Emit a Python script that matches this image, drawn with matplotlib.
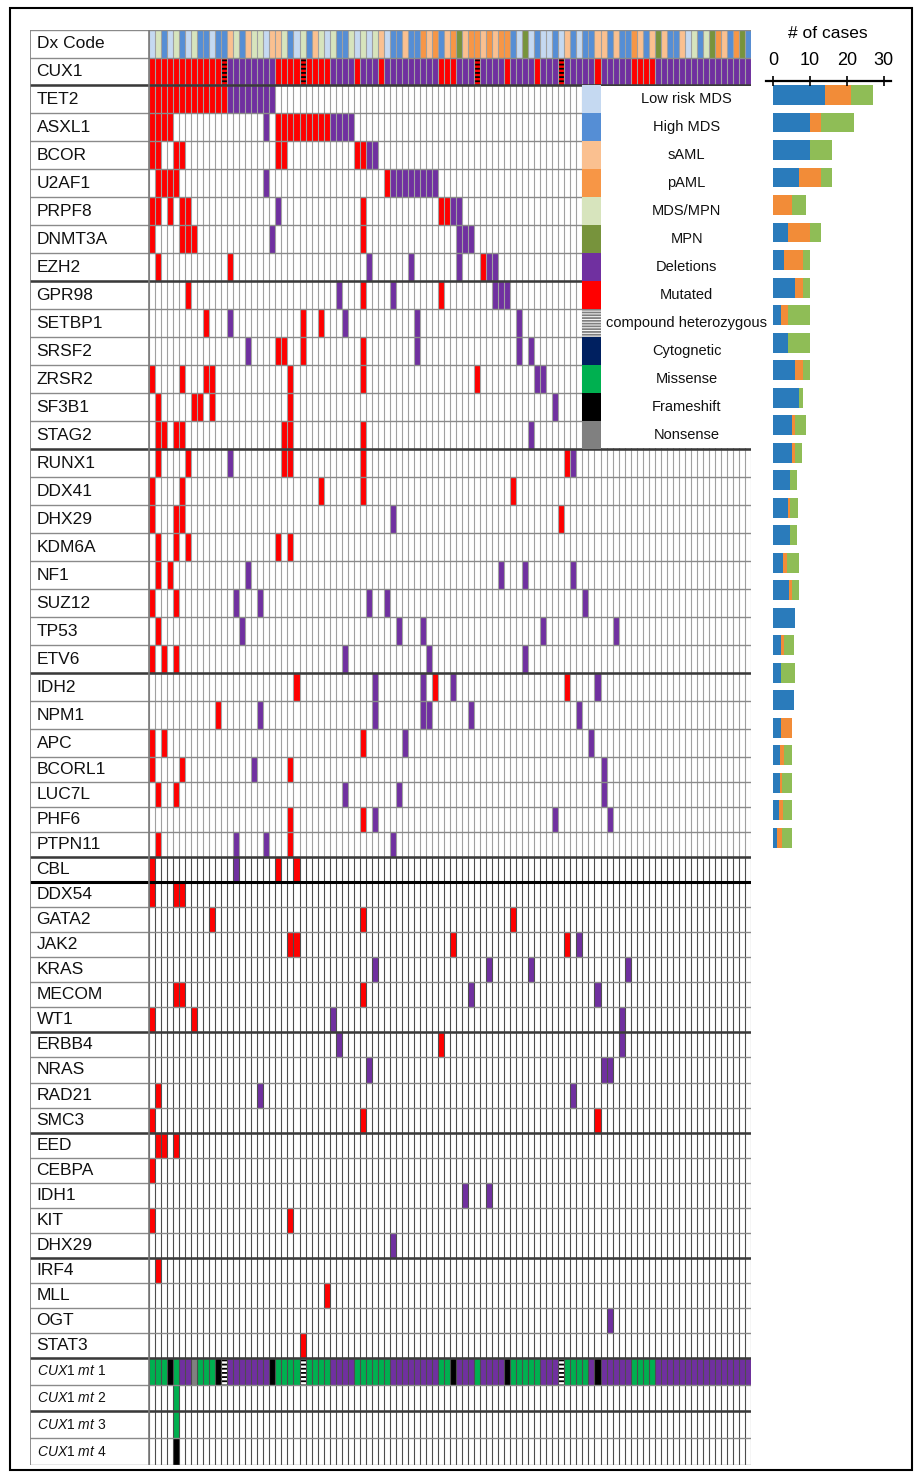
import numpy as np
import matplotlib
matplotlib.use("Agg")
import matplotlib.pyplot as plt
from matplotlib.colors import ListedColormap, BoundaryNorm
from matplotlib.patches import Rectangle
from matplotlib import font_manager

W, H = 915, 1475
N_COLS = 100

# ---- data ---------------------------------------------------------------
# diagnosis code per sample (L low risk MDS, H high MDS, S sAML, P pAML, M MDS/MPN, N MPN)
DX_CODES = ("LMHLMHLMHH" "LHHSMHSMML" "SSMHLMHSML" "MHHMLMLMSL" "HHSHHPSPHS"
            "PNSPPSPSPP" "HLNLHLLHLS" "HLHHSSHSHH" "PSHSNSHHSL" "MHMNPSHPNH")

# CUX1 row: mutated runs (inclusive), compound heterozygous columns, rest deleted
CUX1_RED_RUNS = [(0, 12), (21, 29), (34, 34), (38, 38), (48, 50), (54, 54),
                 (59, 59), (64, 64), (68, 68), (74, 74), (80, 83)]
CUX1_COMPOUND = [12, 25, 54, 68]

GENES = ["TET2", "ASXL1", "BCOR", "U2AF1", "PRPF8", "DNMT3A", "EZH2", "GPR98",
         "SETBP1", "SRSF2", "ZRSR2", "SF3B1", "STAG2", "RUNX1", "DDX41", "DHX29",
         "KDM6A", "NF1", "SUZ12", "TP53", "ETV6", "IDH2", "NPM1", "APC", "BCORL1",
         "LUC7L", "PHF6", "PTPN11", "CBL", "DDX54", "GATA2", "JAK2", "KRAS", "MECOM",
         "WT1", "ERBB4", "NRAS", "RAD21", "SMC3", "EED", "CEBPA", "IDH1", "KIT",
         "DHX29", "IRF4", "MLL", "OGT", "STAT3"]

MUTATED = [
    [0, 1, 2, 3, 4, 5, 6, 7, 8, 9, 10, 11, 12],
    [0, 1, 2, 3, 21, 22, 23, 24, 25, 26, 27, 28, 29],
    [0, 1, 4, 5, 21, 22, 34, 35],
    [1, 2, 3, 4, 39],
    [0, 1, 3, 5, 6, 35, 48, 49],
    [0, 5, 6, 7, 35],
    [1, 13, 55],
    [6, 35, 48],
    [9, 25, 28],
    [21, 22, 25, 35],
    [0, 5, 9, 10, 23, 35, 54],
    [1, 7, 8, 10, 23],
    [1, 2, 4, 5, 22, 23, 35],
    [1, 6, 22, 23, 35, 69],
    [0, 5, 28, 35, 60],
    [0, 4, 5, 68],
    [1, 4, 6, 21, 23],
    [1, 3],
    [0, 4],
    [1],
    [0, 2, 4],
    [24, 47, 69],
    [11],
    [0, 2, 35],
    [0, 5, 23],
    [1, 4],
    [23, 35],
    [1, 23],
    [0, 21, 24],
    [0, 4, 5],
    [10, 35, 60],
    [23, 24, 50, 69],
    [],
    [4, 5, 35],
    [0, 7],
    [48],
    [],
    [1],
    [0, 35, 74],
    [1, 2, 4],
    [0],
    [],
    [0, 23],
    [],
    [1],
    [29],
    [],
    [25],
]

DELETED = [
    [13, 14, 15, 16, 17, 18, 19, 20],
    [19, 30, 31, 32, 33],
    [36, 37],
    [19, 40, 41, 42, 43, 44, 45, 46, 47],
    [21, 50, 51],
    [20, 51, 52, 53],
    [36, 43, 51, 56, 57],
    [31, 40, 57, 58, 59],
    [13, 32, 44, 61],
    [16, 44, 61, 63],
    [64, 65],
    [67],
    [63],
    [13, 70],
    [],
    [40],
    [],
    [16, 58, 62, 70],
    [14, 18, 36, 39, 72],
    [15, 41, 45, 65, 77],
    [32, 46, 62],
    [37, 45, 50, 74],
    [18, 37, 45, 46, 53, 71],
    [42, 73],
    [17, 75],
    [32, 41, 75],
    [37, 67, 76],
    [14, 19, 40],
    [14],
    [],
    [],
    [71],
    [37, 56, 63, 79],
    [53, 74],
    [30, 78],
    [31, 78],
    [36, 75, 76],
    [18, 70],
    [],
    [],
    [],
    [52, 56],
    [],
    [40],
    [],
    [],
    [76],
    [],
]

# CUX1 mutation rows: (type, first col, last col); g missense, k frameshift,
# n nonsense, d deletion, c compound heterozygous
MT1_RUNS = [("g", 0, 2), ("k", 3, 3), ("g", 4, 4), ("d", 5, 6), ("n", 7, 7),
            ("g", 8, 10), ("k", 11, 11), ("c", 12, 12), ("d", 13, 19), ("k", 20, 20),
            ("g", 21, 24), ("c", 25, 25), ("g", 26, 29), ("d", 30, 33), ("g", 34, 39),
            ("d", 40, 47), ("g", 48, 49), ("k", 50, 50), ("d", 51, 53), ("g", 54, 54),
            ("d", 55, 58), ("k", 59, 59), ("g", 60, 64), ("d", 65, 67), ("c", 68, 68),
            ("g", 69, 72), ("d", 73, 73), ("k", 74, 74), ("d", 75, 79), ("g", 80, 83),
            ("d", 84, 99)]
MT2_RUNS = [("g", 4, 4)]
MT3_RUNS = [("g", 4, 4)]
MT4_RUNS = [("k", 4, 4)]

# number of cases per gene (blue, orange, green segments)
BLUE = [14, 10, 10, 7, 0, 4, 3, 6, 2, 4, 6, 7, 5, 5, 4.5, 4, 4.5, 2.7, 4.3, 6,
        2, 2, 5.5, 2, 1.8, 1.8, 1.5, 1]
ORANGE = [7, 3, 0, 6, 5, 6, 5, 2, 2, 0, 2, 0, 1, 1, 0, 0.5, 0, 1.1, 0.8, 0,
          1, 0, 0, 3, 1, 0.6, 1, 1.3]
GREEN = [6, 9, 6, 3, 4, 3, 2, 2, 6, 6, 2, 1, 3, 1.8, 2, 2.2, 2, 3.2, 1.9, 0,
         2.7, 3.8, 0, 0, 2.2, 2.6, 2.5, 2.7]

LEGEND_LABELS = ["Low risk MDS", "High MDS", "sAML", "pAML", "MDS/MPN", "MPN",
                 "Deletions", "Mutated", "compound heterozygous", "Cytognetic",
                 "Missense", "Frameshift", "Nonsense"]

# ---- styling -------------------------------------------------------------
PALETTE = ["#ffffff", "#ff0000", "#7030a0", "#00b050", "#000000", "#808080",
           "#c5d9f1", "#558ed5", "#fac090", "#f79646", "#d7e4bd", "#77933c", "#002060"]
DX_INDEX = {"L": 6, "H": 7, "S": 8, "P": 9, "M": 10, "N": 11}
MT_INDEX = {"g": 3, "k": 4, "n": 5, "d": 2, "c": 0}
LEGEND_INDEX = [6, 7, 8, 9, 10, 11, 2, 1, None, 12, 3, 4, 5]

names = {f.name for f in font_manager.fontManager.ttflist}
NARROW = "Liberation Sans Narrow" if "Liberation Sans Narrow" in names else "Liberation Sans"
NARROW_SIZE = 12.5 if NARROW == "Liberation Sans Narrow" else 10.5

plt.rcParams["font.family"] = ["Liberation Sans", "DejaVu Sans"]
plt.rcParams["mathtext.fontset"] = "custom"
plt.rcParams["mathtext.it"] = "Liberation Sans:italic"
plt.rcParams["mathtext.rm"] = "Liberation Sans"
plt.rcParams["hatch.linewidth"] = 1.3

# row heights in pixels (top to bottom)
heights = [27.5] * 2 + [28] * 24 + [25.04] * 24 + [26.75] * 4
edges = 30 + np.concatenate([[0], np.cumsum(heights)])
n_rows = len(heights)
LW = (149 - 30) / 6.02  # label column width in sample columns

# ---- build the code matrix -----------------------------------------------
codes = np.zeros((n_rows, N_COLS), dtype=int)
assert len(DX_CODES) == N_COLS
codes[0] = [DX_INDEX[c] for c in DX_CODES]
codes[1] = 2
for a, b in CUX1_RED_RUNS:
    codes[1, a:b + 1] = 1
for gi in range(len(GENES)):
    codes[2 + gi, MUTATED[gi]] = 1
    codes[2 + gi, DELETED[gi]] = 2
compound_cells = [(1, c, "black") for c in CUX1_COMPOUND]
for ri, runs in enumerate([MT1_RUNS, MT2_RUNS, MT3_RUNS, MT4_RUNS]):
    r = 50 + ri
    for t, a, b in runs:
        codes[r, a:b + 1] = MT_INDEX[t]
        if t == "c":
            compound_cells += [(r, c, "black") for c in range(a, b + 1)]

cmap = ListedColormap(PALETTE)
norm = BoundaryNorm(np.arange(-0.5, len(PALETTE) + 0.5), len(PALETTE))

fig = plt.figure(figsize=(W / 100, H / 100), dpi=100)
ax = fig.add_axes([30 / W, 1 - 1465 / H, 721 / W, 1435 / H])
ax.set_xlim(-LW, N_COLS)
ax.set_ylim(1465, 30)
ax.axis("off")

ax.pcolormesh(np.arange(N_COLS + 1), edges, codes, cmap=cmap, norm=norm, zorder=1)

for r, c, col in compound_cells:
    ax.add_patch(Rectangle((c, edges[r]), 1, edges[r + 1] - edges[r], fill=False,
                           hatch="----", edgecolor=col, lw=0, zorder=2))

cols = np.arange(N_COLS + 1)
ax.vlines(cols, edges[0], edges[30], color="#a0a0a0", lw=0.8, zorder=3)
ax.vlines(cols, edges[30], edges[-1], color="#4d4d4d", lw=0.8, zorder=3)
ax.hlines(edges, -LW, N_COLS, color="#8a8a8a", lw=1.0, zorder=3.5)
GROUP_BREAKS = [2, 9, 15, 23, 30, 37, 41, 46, 50, 52]
ax.hlines(edges[GROUP_BREAKS], -LW, N_COLS, color="#3a3a3a", lw=1.8, zorder=3.6)
ax.hlines(edges[31], -LW, N_COLS, color="#000000", lw=2.2, zorder=3.6)
ax.vlines([-LW, 0], edges[0], edges[-1], color="#7a7a7a", lw=1.2, zorder=3.6)

# legend panel over the right part of the upper rows
ax.add_patch(Rectangle((71.9, edges[2] + 1.0), 40, edges[15] - edges[2] - 2.0,
                       facecolor="white", edgecolor="none", zorder=5, clip_on=False))
for i, (lab, idx) in enumerate(zip(LEGEND_LABELS, LEGEND_INDEX)):
    r = 2 + i
    y0, h = edges[r], edges[r + 1] - edges[r]
    if idx is None:
        ax.add_patch(Rectangle((71.9, y0), 3.2, h, facecolor="white", hatch="------",
                               edgecolor="#7f7f7f", lw=0, zorder=6))
    else:
        ax.add_patch(Rectangle((71.9, y0), 3.2, h, facecolor=PALETTE[idx],
                               edgecolor="none", zorder=6))
    ax.text(89.3, y0 + h / 2, lab, ha="center", va="center", family=NARROW,
            fontsize=NARROW_SIZE, color="#111111", zorder=7, clip_on=False)

# row labels
row_labels = ["Dx Code", "CUX1"] + GENES
for r, lab in enumerate(row_labels):
    ax.text(-LW + 1.1, (edges[r] + edges[r + 1]) / 2, lab, ha="left", va="center",
            fontsize=12.5, color="#111111")
for k in range(4):
    r = 50 + k
    ax.text(-LW + 1.1, (edges[r] + edges[r + 1]) / 2, r"$\mathit{CUX1\ mt}$ %d" % (k + 1),
            ha="left", va="center", fontsize=10, color="#111111")

# ---- number of cases bar chart ---------------------------------------------
bx = fig.add_axes([766 / W, 1 - 851 / H, 125 / W, (851 - 81) / H])
bx.set_xlim(-2, 32)
bx.set_ylim(27.49, -0.509)
ypos = np.arange(len(BLUE))
blue = np.array(BLUE, float)
orange = np.array(ORANGE, float)
green = np.array(GREEN, float)
bx.barh(ypos, blue, height=0.727, color="#2a7bbb")
bx.barh(ypos, orange, left=blue, height=0.727, color="#f28c38")
bx.barh(ypos, green, left=blue + orange, height=0.727, color="#8fbd56")
for s in ["left", "right", "bottom"]:
    bx.spines[s].set_visible(False)
bx.spines["top"].set_linewidth(1.6)
bx.xaxis.tick_top()
bx.set_xticks([0, 10, 20, 30])
bx.tick_params(axis="x", direction="inout", length=7, width=1.2, pad=5, labelsize=13)
bx.set_yticks([])
bx.patch.set_alpha(0)
fig.text(828 / W, 1 - 33 / H, "# of cases", ha="center", va="center", fontsize=12.5)

fig.add_artist(Rectangle((10 / W, 1 - 1470 / H), 902 / W, 1462 / H,
                         transform=fig.transFigure, fill=False, lw=1.5, ec="black"))

fig.savefig("out.png", dpi=100)
